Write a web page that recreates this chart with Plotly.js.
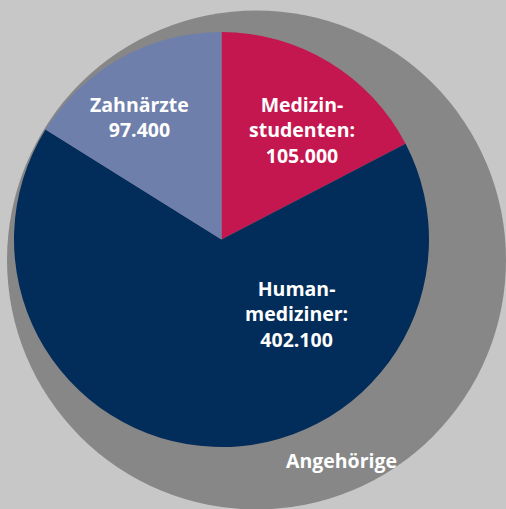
<!DOCTYPE html>
<html>
<head>
<meta charset="utf-8">
<script src="https://cdn.plot.ly/plotly-3.0.1.min.js"></script>
<style>html,body{margin:0;padding:0;background:#c6c7c6;}#chart{width:506px;height:509px;}</style>
</head>
<body>
<div id="chart"></div>
<script>
// Data
const categories = ["Medizinstudenten", "Humanmediziner", "Zahnärzte"];
const labelTexts = ["Medizin-<br>studenten:", "Human-<br>mediziner:", "Zahnärzte"];
const values = [105000, 402100, 97400];
const valueTexts = ["105.000", "402.100", "97.400"];
const colors = ["#c4174f", "#022c5a", "#6f7fab"];
const outerLabel = "Angehörige";

const W = 506, H = 509;
const px = x => x / W;
const py = y => 1 - y / H;

// pie geometry (pixels)
const cx = 221.5, cy = 239.5, r = 207.5;

const trace = {
  type: "pie",
  labels: categories,
  values: values,
  sort: false,
  direction: "clockwise",
  rotation: 0,
  marker: {colors: colors, line: {width: 0}},
  textinfo: "none",
  hoverinfo: "label+value",
  showlegend: false,
  domain: {x: [px(cx - r), px(cx + r)], y: [py(cy + r), py(cy - r)]}
};

const font = {family: "'Open Sans', sans-serif", size: 19.5, color: "#ffffff", weight: 700};
const annPos = [[302, 130], [296, 314], [139, 117]];
const annotations = categories.map((c, i) => ({
  xref: "paper", yref: "paper",
  x: px(annPos[i][0]), y: py(annPos[i][1]),
  xanchor: "center", yanchor: "middle",
  text: "<b>" + labelTexts[i] + "<br>" + valueTexts[i] + "</b>",
  showarrow: false, font: font, align: "center"
}));
annotations.push({
  xref: "paper", yref: "paper", x: px(341), y: py(460),
  xanchor: "center", yanchor: "middle",
  text: "<b>" + outerLabel + "</b>", showarrow: false, font: font
});

const layout = {
  width: W, height: H,
  margin: {l: 0, r: 0, t: 0, b: 0},
  paper_bgcolor: "#c6c7c6",
  plot_bgcolor: "#c6c7c6",
  showlegend: false,
  shapes: [{
    type: "circle", xref: "paper", yref: "paper", layer: "below",
    x0: px(7), x1: px(506), y0: py(509.5), y1: py(10.5),
    fillcolor: "#878787", line: {width: 0}
  }],
  annotations: annotations
};

Plotly.newPlot("chart", [trace], layout, {displayModeBar: false, staticPlot: true});
</script>
</body>
</html>
